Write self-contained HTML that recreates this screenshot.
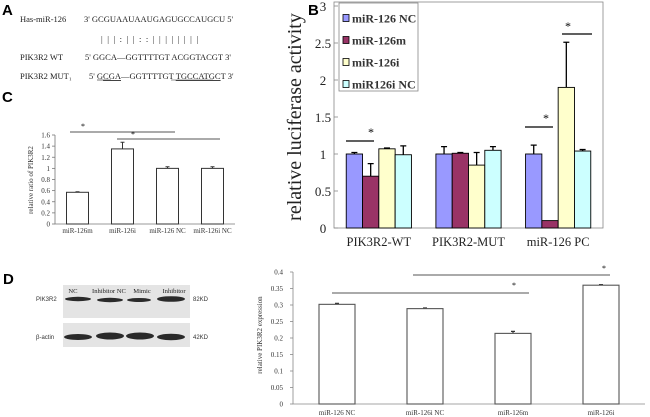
<!DOCTYPE html>
<html><head><meta charset="utf-8">
<style>
html,body{margin:0;padding:0;background:#fff;}
svg{display:block;}
text{font-family:"Liberation Serif",serif;}
.sans{font-family:"Liberation Sans",sans-serif;}
</style></head>
<body>
<svg id="fig" width="650" height="417" viewBox="0 0 650 417" xmlns="http://www.w3.org/2000/svg">
<!-- Panel A -->
<g font-size="8.5" fill="#222">
  <text class="sans" x="2" y="15" font-size="15" font-weight="bold" fill="#000">A</text>
  <text x="20" y="22">Has-miR-126</text>
  <text x="84" y="22">3' GCGUAAUAAUGAGUGCCAUGCU 5'</text>
  <text x="101" y="42" letter-spacing="1.2">| | |    : | |   :   : | | | | | | | |</text>
  <text x="20" y="60">PIK3R2 WT</text>
  <text x="85" y="60">5' GGCA—GGTTTTGT ACGGTACGT 3'</text>
  <text x="20" y="79">PIK3R2 MUT₁</text>
  <text x="89" y="79">5' G<tspan text-decoration="underline">CGA</tspan>—GGTTTTGT <tspan text-decoration="underline">TGCCATGC</tspan>T 3'</text>
  <line x1="97" y1="80" x2="111" y2="80" stroke="#222" stroke-width="0.6"/>
  <line x1="171" y1="80" x2="213" y2="80" stroke="#222" stroke-width="0.6"/>
</g>
<text class="sans" x="2" y="102" font-size="15" font-weight="bold">C</text>
<text class="sans" x="308" y="15" font-size="15" font-weight="bold">B</text>
<text class="sans" x="3" y="284" font-size="15" font-weight="bold">D</text>

<!-- Western blot -->
<g>
  <rect x="63" y="285" width="127" height="33" fill="#e4e4e4"/>
  <rect x="63" y="323" width="127" height="24" fill="#e4e4e4"/>
  <g font-size="6.6" fill="#222" text-anchor="middle">
    <text x="73" y="293">NC</text>
    <text x="109" y="293">Inhibitor NC</text>
    <text x="142" y="293">Mimic</text>
    <text x="174" y="293">Inhibitor</text>
  </g>
  <g fill="#2a2a2a">
    <ellipse cx="78" cy="299" rx="13" ry="2.2"/>
    <ellipse cx="110" cy="300" rx="13" ry="2.2"/>
    <ellipse cx="139" cy="300" rx="12" ry="2"/>
    <ellipse cx="171" cy="299" rx="14" ry="2.8"/>
    <ellipse cx="78" cy="337" rx="14" ry="3"/>
    <ellipse cx="110" cy="336" rx="14" ry="3.5"/>
    <ellipse cx="140" cy="336" rx="14" ry="3.5"/>
    <ellipse cx="171" cy="337" rx="14" ry="3.2"/>
  </g>
  <g font-size="6" fill="#333" class="sans">
    <text class="sans" x="36" y="301">PIK3R2</text>
    <text class="sans" x="36" y="339">β-actin</text>
    <text class="sans" x="193" y="301">82KD</text>
    <text class="sans" x="193" y="339">42KD</text>
  </g>
</g>
<g id="chartB"></g>
<g id="chartC"></g>
<g id="chartD"></g>
</svg>
<script>
const NS="http://www.w3.org/2000/svg";
function mk(parent,tag,attrs,txt){const e=document.createElementNS(NS,tag);for(const k in attrs)e.setAttribute(k,attrs[k]);if(txt!==undefined)e.textContent=txt;parent.appendChild(e);return e;}

// ---------- Chart B data ----------
const bCategories=["PIK3R2-WT","PIK3R2-MUT","miR-126 PC"];
const bSeriesNames=["miR-126 NC","miR-126m","miR-126i","miR126i NC"];
const bNC=[1.0,1.0,1.0];
const bMimic=[0.7,1.01,0.1];
const bInhib=[1.07,0.85,1.9];
const bInhibNC=[0.99,1.05,1.04];
const bErrNC=[0.02,0.1,0.12];
const bErrMimic=[0.17,0.01,0];
const bErrInhib=[0.01,0.17,0.61];
const bErrInhibNC=[0.12,0.05,0.02];
const bTicks=[0,0.5,1,1.5,2,2.5,3];

// ---------- Chart C data ----------
const cCategories=["miR-126m","miR-126i","miR-126 NC","miR-126i NC"];
const cValues=[0.57,1.35,1.0,1.0];
const cErrors=[0.01,0.12,0.03,0.03];
const cTicks=[0,0.2,0.4,0.6,0.8,1,1.2,1.4,1.6];

// ---------- Chart D data ----------
const dCategories=["miR-126 NC","miR-126i NC","miR-126m","miR-126i"];
const dValues=[0.302,0.289,0.214,0.36];
const dErrors=[0.003,0.002,0.006,0.002];
const dTicks=[0,0.05,0.1,0.15,0.2,0.25,0.3,0.35,0.4];

// ===== Chart B =====
(function(){
  const g=document.getElementById('chartB');
  const x0=334,x1=603,y0=228,yTop=6,max=3;
  const y=v=>y0-(v/max)*(y0-yTop);
  const groupW=(x1-x0)/bCategories.length;
  const barW=16.3;
  const colors=["#9999ff","#993366","#ffffcc","#ccffff"];
  const series=[bNC,bMimic,bInhib,bInhibNC];
  const errs=[bErrNC,bErrMimic,bErrInhib,bErrInhibNC];
  let r=mk(g,'rect',{x:x0,y:2,width:x1-x0,height:y0-2,fill:'#fff',stroke:'#888','stroke-width':0.8});
  
  
  bTicks.forEach(t=>{
    const ty=y(t);
    let l=mk(g,'line',{x1:x0,x2:x0+4,y1:ty,y2:ty,stroke:'#888','stroke-width':0.8});
    
    
    let tx=mk(g,'text',{x:323,y:ty+5,'font-size':13,'text-anchor':'middle',fill:'#222'},String(t));
    
    
  });
  let yt=mk(g,'text',{x:0,y:0,'font-size':20,'text-anchor':'middle',fill:'#222',transform:'translate(301,117) rotate(-90)'},'relative luciferase activity');
  
  
  bCategories.forEach((c,i)=>{
    const cx=x0+groupW*(i+0.5);
    const start=cx-2*barW;
    series.forEach((s,j)=>{
      const bx=start+j*barW, v=s[i];
      if(errs[j][i]>0){
        const ey=y(v+errs[j][i]);
        let el=mk(g,'path',{d:`M${bx+barW/2} ${y(v)}V${ey}M${bx+barW/2-3} ${ey}H${bx+barW/2+3}`,stroke:'#000','stroke-width':1.3,fill:'none'});
        
        
      }
      let b=mk(g,'rect',{x:bx,y:y(v),width:barW,height:y0-y(v),fill:colors[j],stroke:'#000','stroke-width':0.9});
      
      
    });
    let lab=mk(g,'text',{x:cx,y:246,'font-size':12.5,'text-anchor':'middle',fill:'#222'},c);
    
    
  });
  const sig=[[346,374,141,371,136],[525,553,127,546,122],[562,592,34,568,30]];
  sig.forEach(s=>{
    let l=mk(g,'line',{x1:s[0],x2:s[1],y1:s[2],y2:s[2],stroke:'#000','stroke-width':1.2});
    
    
    let st=mk(g,'text',{x:s[3],y:s[4],'font-size':12,'text-anchor':'middle'},'*');
    
    
  });
  const lg=mk(g,'g',{});
  
  
  mk(lg,'rect',{x:339,y:3,width:79,height:88,fill:'#fff',stroke:'#888','stroke-width':0.8});
  bSeriesNames.forEach((n,j)=>{
    const ly=18+j*22;
    const e=mk(lg,'g',{});
    
    
    mk(e,'rect',{x:343,y:ly-3.5,width:6,height:7,fill:colors[j],stroke:'#000','stroke-width':0.8});
    mk(e,'text',{x:352,y:ly+4.5,'font-size':12,'font-weight':'bold',fill:'#333'},n);
  });
})();

// ===== Chart C =====
(function(){
  const g=document.getElementById('chartC');
  const x0=55,x1=235,y0=224,max=1.6,yMax=135;
  const y=v=>y0-(v/max)*(y0-yMax);
  const bw=(x1-x0)/cCategories.length;
  let ax=mk(g,'path',{d:`M${x0} ${yMax}V${y0}H${x1}`,stroke:'#777',fill:'none','stroke-width':0.8});
  
  
  cTicks.forEach(t=>{
    let l=mk(g,'line',{x1:x0-3,x2:x0,y1:y(t),y2:y(t),stroke:'#777','stroke-width':0.8});
    
    
    let tx=mk(g,'text',{x:x0-5,y:y(t)+2.5,'font-size':7,'text-anchor':'end',fill:'#333'},String(t));
    
    
  });
  let yt=mk(g,'text',{x:0,y:0,'font-size':7,'text-anchor':'middle',fill:'#333',transform:'translate(33,180) rotate(-90)'},'relative ratio of PIK3R2');
  
  
  cCategories.forEach((c,i)=>{
    const cx=x0+bw*(i+0.5), v=cValues[i], w=22;
    const ey=y(v+cErrors[i]);
    let e=mk(g,'path',{d:`M${cx} ${y(v)}V${ey}M${cx-2} ${ey}H${cx+2}`,stroke:'#333','stroke-width':1,fill:'none'});
    
    
    let b=mk(g,'rect',{x:cx-w/2,y:y(v),width:w,height:y0-y(v),fill:'#fff',stroke:'#333','stroke-width':1});
    
    
    let lab=mk(g,'text',{x:cx,y:233,'font-size':7,'text-anchor':'middle',fill:'#333'},c);
    
    
  });
  [[70,175,132,83,129],[117,220,139,133,137]].forEach(s=>{
    let l=mk(g,'line',{x1:s[0],x2:s[1],y1:s[2],y2:s[2],stroke:'#555','stroke-width':1});
    
    
    let st=mk(g,'text',{x:s[3],y:s[4],'font-size':8,'text-anchor':'middle'},'*');
    
    
  });
})();

// ===== Chart D =====
(function(){
  const g=document.getElementById('chartD');
  const x0=293,x1=645,y0=404,yMax=272,max=0.4;
  const y=v=>y0-(v/max)*(y0-yMax);
  const bw=(x1-x0)/dCategories.length;
  let ax=mk(g,'path',{d:`M${x0} ${yMax}V${y0}H${x1}`,stroke:'#888',fill:'none','stroke-width':0.8});
  
  
  dTicks.forEach(t=>{
    let l=mk(g,'line',{x1:x0-3,x2:x0,y1:y(t),y2:y(t),stroke:'#888','stroke-width':0.8});
    
    
    let tx=mk(g,'text',{x:x0-10,y:y(t)+2.5,'font-size':7,'text-anchor':'end',fill:'#333'},String(t));
    
    
  });
  let yt=mk(g,'text',{x:0,y:0,'font-size':7,'text-anchor':'middle',fill:'#333',transform:'translate(262,335) rotate(-90)'},'relative PIK3R2 expression');
  
  
  dCategories.forEach((c,i)=>{
    const cx=x0+bw*(i+0.5), v=dValues[i], w=36;
    const ey=y(v+dErrors[i]);
    let e=mk(g,'path',{d:`M${cx} ${y(v)}V${ey}M${cx-2} ${ey}H${cx+2}`,stroke:'#333','stroke-width':1.2,fill:'none'});
    
    
    let b=mk(g,'rect',{x:cx-w/2,y:y(v),width:w,height:y0-y(v),fill:'#fff',stroke:'#555','stroke-width':1.1});
    
    
    let lab=mk(g,'text',{x:cx,y:415,'font-size':7,'text-anchor':'middle',fill:'#333'},c);
    
    
  });
  [[332,529,293,514,288],[413,610,275,604,271]].forEach(s=>{
    let l=mk(g,'line',{x1:s[0],x2:s[1],y1:s[2],y2:s[2],stroke:'#555','stroke-width':1});
    
    
    let st=mk(g,'text',{x:s[3],y:s[4],'font-size':8,'text-anchor':'middle'},'*');
    
    
  });
})();
</script>
</body></html>
